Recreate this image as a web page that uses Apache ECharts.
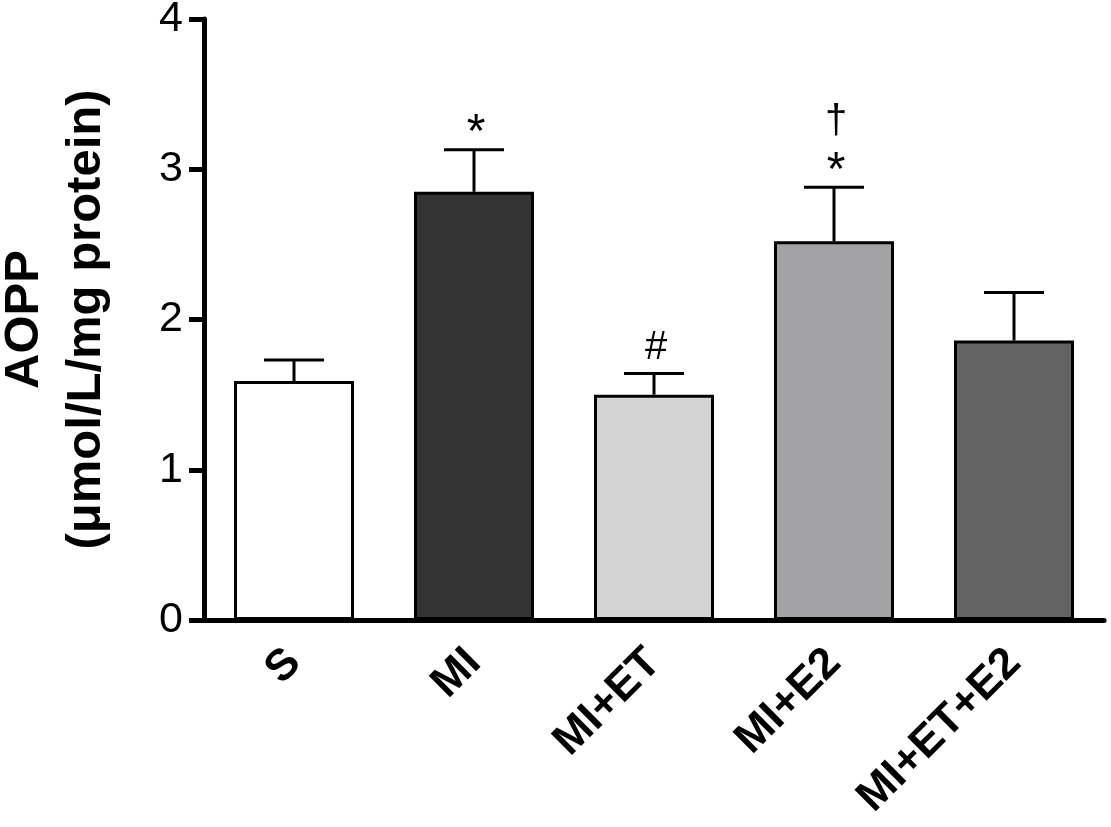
<!DOCTYPE html>
<html>
<head>
<meta charset="utf-8">
<script src="https://cdn.jsdelivr.net/npm/echarts@6/dist/echarts.min.js"></script>
<style>
  html, body { margin: 0; padding: 0; background: #ffffff; }
  #chart { width: 1111px; height: 827px; }
</style>
</head>
<body>
<div id="chart"></div>
<script>
// ---- data ----
var categories = ['S', 'MI', 'MI+ET', 'MI+E2', 'MI+ET+E2'];
var means      = [1.59, 2.85, 1.50, 2.52, 1.86];
var sems       = [0.14, 0.28, 0.14, 0.36, 0.32];
var barColors  = ['#ffffff', '#333333', '#d4d4d4', '#a3a3a6', '#636363'];
// significance marks, listed from nearest the error bar upward
var marks      = [[], ['*'], ['#'], ['*', '\u2020'], []];
var yTicks     = [0, 1, 2, 3, 4];

var FONT = '"Liberation Sans", Arial, sans-serif';

var chart = echarts.init(document.getElementById('chart'), null, { renderer: 'canvas' });

var barData = means.map(function (v, i) {
  return { value: v, itemStyle: { color: barColors[i] } };
});
var errData = means.map(function (v, i) { return [i, v, sems[i]]; });

chart.setOption({
  animation: false,
  backgroundColor: '#ffffff',
  grid: { left: 204, right: 7, top: 19, bottom: 207, containLabel: false, outerBoundsMode: 'none' },
  xAxis: {
    type: 'category',
    data: categories,
    axisLine: { lineStyle: { color: '#000', width: 5 } },
    axisTick: { alignWithLabel: true, length: 15, lineStyle: { color: '#000', width: 5 } },
    axisLabel: {
      rotate: 45, margin: 36, color: '#000',
      fontFamily: FONT, fontWeight: 'bold', fontSize: 44
    },
    splitLine: { show: false }
  },
  yAxis: {
    type: 'value',
    min: yTicks[0], max: yTicks[yTicks.length - 1], interval: 1,
    name: 'AOPP\n(\u03bcmol/L/mg protein)',
    nameLocation: 'middle', nameRotate: 90, nameGap: 87,
    nameTextStyle: {
      color: '#000', fontFamily: FONT, fontWeight: 'bold',
      fontSize: 49, lineHeight: 62
    },
    axisLine: { show: true, lineStyle: { color: '#000', width: 5 } },
    axisTick: { show: true, length: 15, lineStyle: { color: '#000', width: 5 } },
    axisLabel: { color: '#000', fontFamily: FONT, fontSize: 43, margin: 21 },
    splitLine: { show: false }
  },
  series: [
    {
      type: 'bar',
      data: barData,
      barWidth: 120,
      itemStyle: { borderColor: '#000', borderWidth: 3 },
      z: 2
    },
    {
      type: 'custom',
      data: errData,
      z: 3,
      renderItem: function (params, api) {
        var idx = api.value(0), m = api.value(1), e = api.value(2);
        var base = api.coord([idx, m]);
        var top = api.coord([idx, m + e]);
        var hw = 30;
        var children = [
          { type: 'line', shape: { x1: base[0], y1: base[1], x2: top[0], y2: top[1] },
            style: { stroke: '#000', lineWidth: 3 } },
          { type: 'line', shape: { x1: top[0] - hw, y1: top[1], x2: top[0] + hw, y2: top[1] },
            style: { stroke: '#000', lineWidth: 3 } }
        ];
        var ms = marks[params.dataIndex] || [];
        ms.forEach(function (t, k) {
          var isStar = t === '*';
          children.push({
            type: 'text',
            style: {
              text: t, x: top[0] + 2, y: top[1] - 26 - k * 39 + (isStar ? 10 : 0),
              fill: '#000', font: (isStar ? '48px ' : '40px ') + FONT,
              textAlign: 'center', textVerticalAlign: 'middle'
            }
          });
        });
        return { type: 'group', children: children };
      }
    }
  ]
});
</script>
</body>
</html>
